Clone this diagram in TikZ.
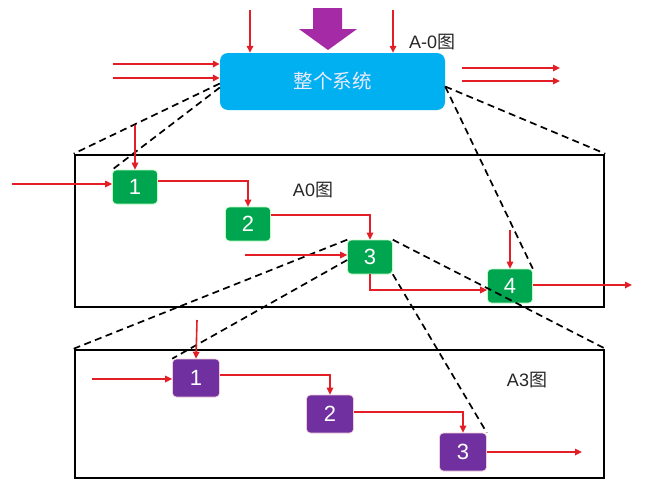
\documentclass[tikz,border=0pt]{standalone}
\usepackage{fontspec}
\setmainfont{Liberation Sans}
\newfontfamily\cjk{Noto Sans CJK SC}
\usetikzlibrary{arrows.meta}
\definecolor{redc}{HTML}{E41E26}
\definecolor{bluec}{HTML}{00B0F0}
\definecolor{greenc}{HTML}{00A550}
\definecolor{purplec}{HTML}{7030A0}
\definecolor{magc}{HTML}{A52AA5}
\tikzset{
  ra/.style={draw=redc, line width=1.6pt, -{Triangle[length=7pt,width=6.5pt]}},
  dl/.style={draw=black, line width=1.7pt, dash pattern=on 7pt off 4.5pt},
  frame/.style={draw=black, line width=2.6pt, minimum width=529pt, minimum height=#1, inner sep=0pt},
  gbox/.style={fill=greenc, draw=green!25!white, line width=0.6pt, rounded corners=4pt, minimum width=45pt, minimum height=34pt, text=white, font=\fontsize{22}{22}\selectfont, inner sep=0pt},
  pbox/.style={fill=purplec, draw=purple!20!white, line width=0.6pt, rounded corners=4pt, minimum width=47pt, minimum height=38pt, text=white, font=\fontsize{22}{22}\selectfont, inner sep=0pt},
  lbl/.style={font=\fontsize{18}{18}\selectfont, text=black!85, inner sep=0pt}
}
\begin{document}
\begin{tikzpicture}[x=1pt,y=-1pt]
\useasboundingbox (0,0) rectangle (651,493);
% frames
\node[frame=152pt] (a0) at (339.5,231) {};
\node[frame=128pt] (a3) at (339.5,414) {};
% top system box
\node[fill=bluec, rounded corners=8pt, minimum width=225pt, minimum height=57pt, inner sep=0pt, text=white!92!blue, font=\cjk\fontsize{19.5}{19.5}\selectfont] (top) at (332.5,81.5) {整个系统};
% purple block arrow
\fill[magc] (313,8) -- (342,8) -- (342,29) -- (357,29) -- (328,50) -- (299,29) -- (313,29) -- cycle;
% top inputs/outputs
\coordinate (t1) at (250,10);
\coordinate (t2) at (393,10);
\draw[ra] (t1) -- (t1 |- top.north);
\draw[ra] (t2) -- (t2 |- top.north);
\coordinate (l1) at (113,64);
\coordinate (l2) at (113,78);
\draw[ra] (l1) -- (l1 -| top.west);
\draw[ra] (l2) -- (l2 -| top.west);
\coordinate (r1s) at (462,68);
\coordinate (r1e) at (560,68);
\coordinate (r2s) at (462,81);
\coordinate (r2e) at (560,81);
\draw[ra] (r1s) -- (r1e);
\draw[ra] (r2s) -- (r2e);
\node[lbl, anchor=west] (la0) at (409,42) {A-0{\cjk 图}};
% A0 level
\node[gbox] (g1) at (135,187) {1};
\node[gbox] (g2) at (248,224) {2};
\node[gbox] (g3) at (370,257) {3};
\node[gbox] (g4) at (510,286) {4};
\node[lbl] (lA0) at (313,190) {A0{\cjk 图}};
% A3 level
\node[pbox] (p1) at (196,378) {1};
\node[pbox] (p2) at (330,414) {2};
\node[pbox] (p3) at (463,452) {3};
\node[lbl] (lA3) at (527,380) {A3{\cjk 图}};
% dashed projections
\draw[dl] ([yshift=-2pt]top.west) -- (a0.north west);
\draw[dl] ([yshift=-6pt]top.west) -- (g1.north west);
\draw[dl] ([yshift=-5pt]top.east) -- (a0.north east);
\draw[dl] ([yshift=-5pt]top.east) -- (g4.north east);
\draw[dl] (g3.north west) -- (a3.north west);
\draw[dl] ([yshift=-3pt]g3.west) -- (p1.north west);
\draw[dl] (g3.north east) -- (a3.north east);
\draw[dl] (g3.south east) -- (p3.north east);
% A0 arrows
\coordinate (i1) at (12,184);
\coordinate (i1t) at (135,125);
\draw[ra] (i1) -- (i1 -| g1.west);
\draw[ra] (i1t) -- (g1.north);
\draw[ra] ([yshift=6pt]g1.east) -| (g2.north);
\draw[ra] ([yshift=9pt]g2.east) -| (g3.north);
\coordinate (i3) at (245,255);
\draw[ra] (i3) -- (i3 -| g3.west);
\draw[ra] (g3.south) |- ([yshift=-4pt]g4.west);
\coordinate (i4) at (510,230);
\draw[ra] (i4) -- (g4.north);
\coordinate (o4) at (632,285);
\draw[ra] (o4 -| g4.east) -- (o4);
% A3 arrows
\coordinate (j1) at (92,379);
\coordinate (j1t) at (197,320);
\draw[ra] (j1) -- (j1 -| p1.west);
\draw[ra] (j1t) -- (p1.north);
\draw[ra] ([yshift=3pt]p1.east) -| (p2.north);
\draw[ra] ([yshift=2pt]p2.east) -| (p3.north);
\coordinate (o3) at (582,452);
\draw[ra] (o3 -| p3.east) -- (o3);
\end{tikzpicture}
\end{document}
